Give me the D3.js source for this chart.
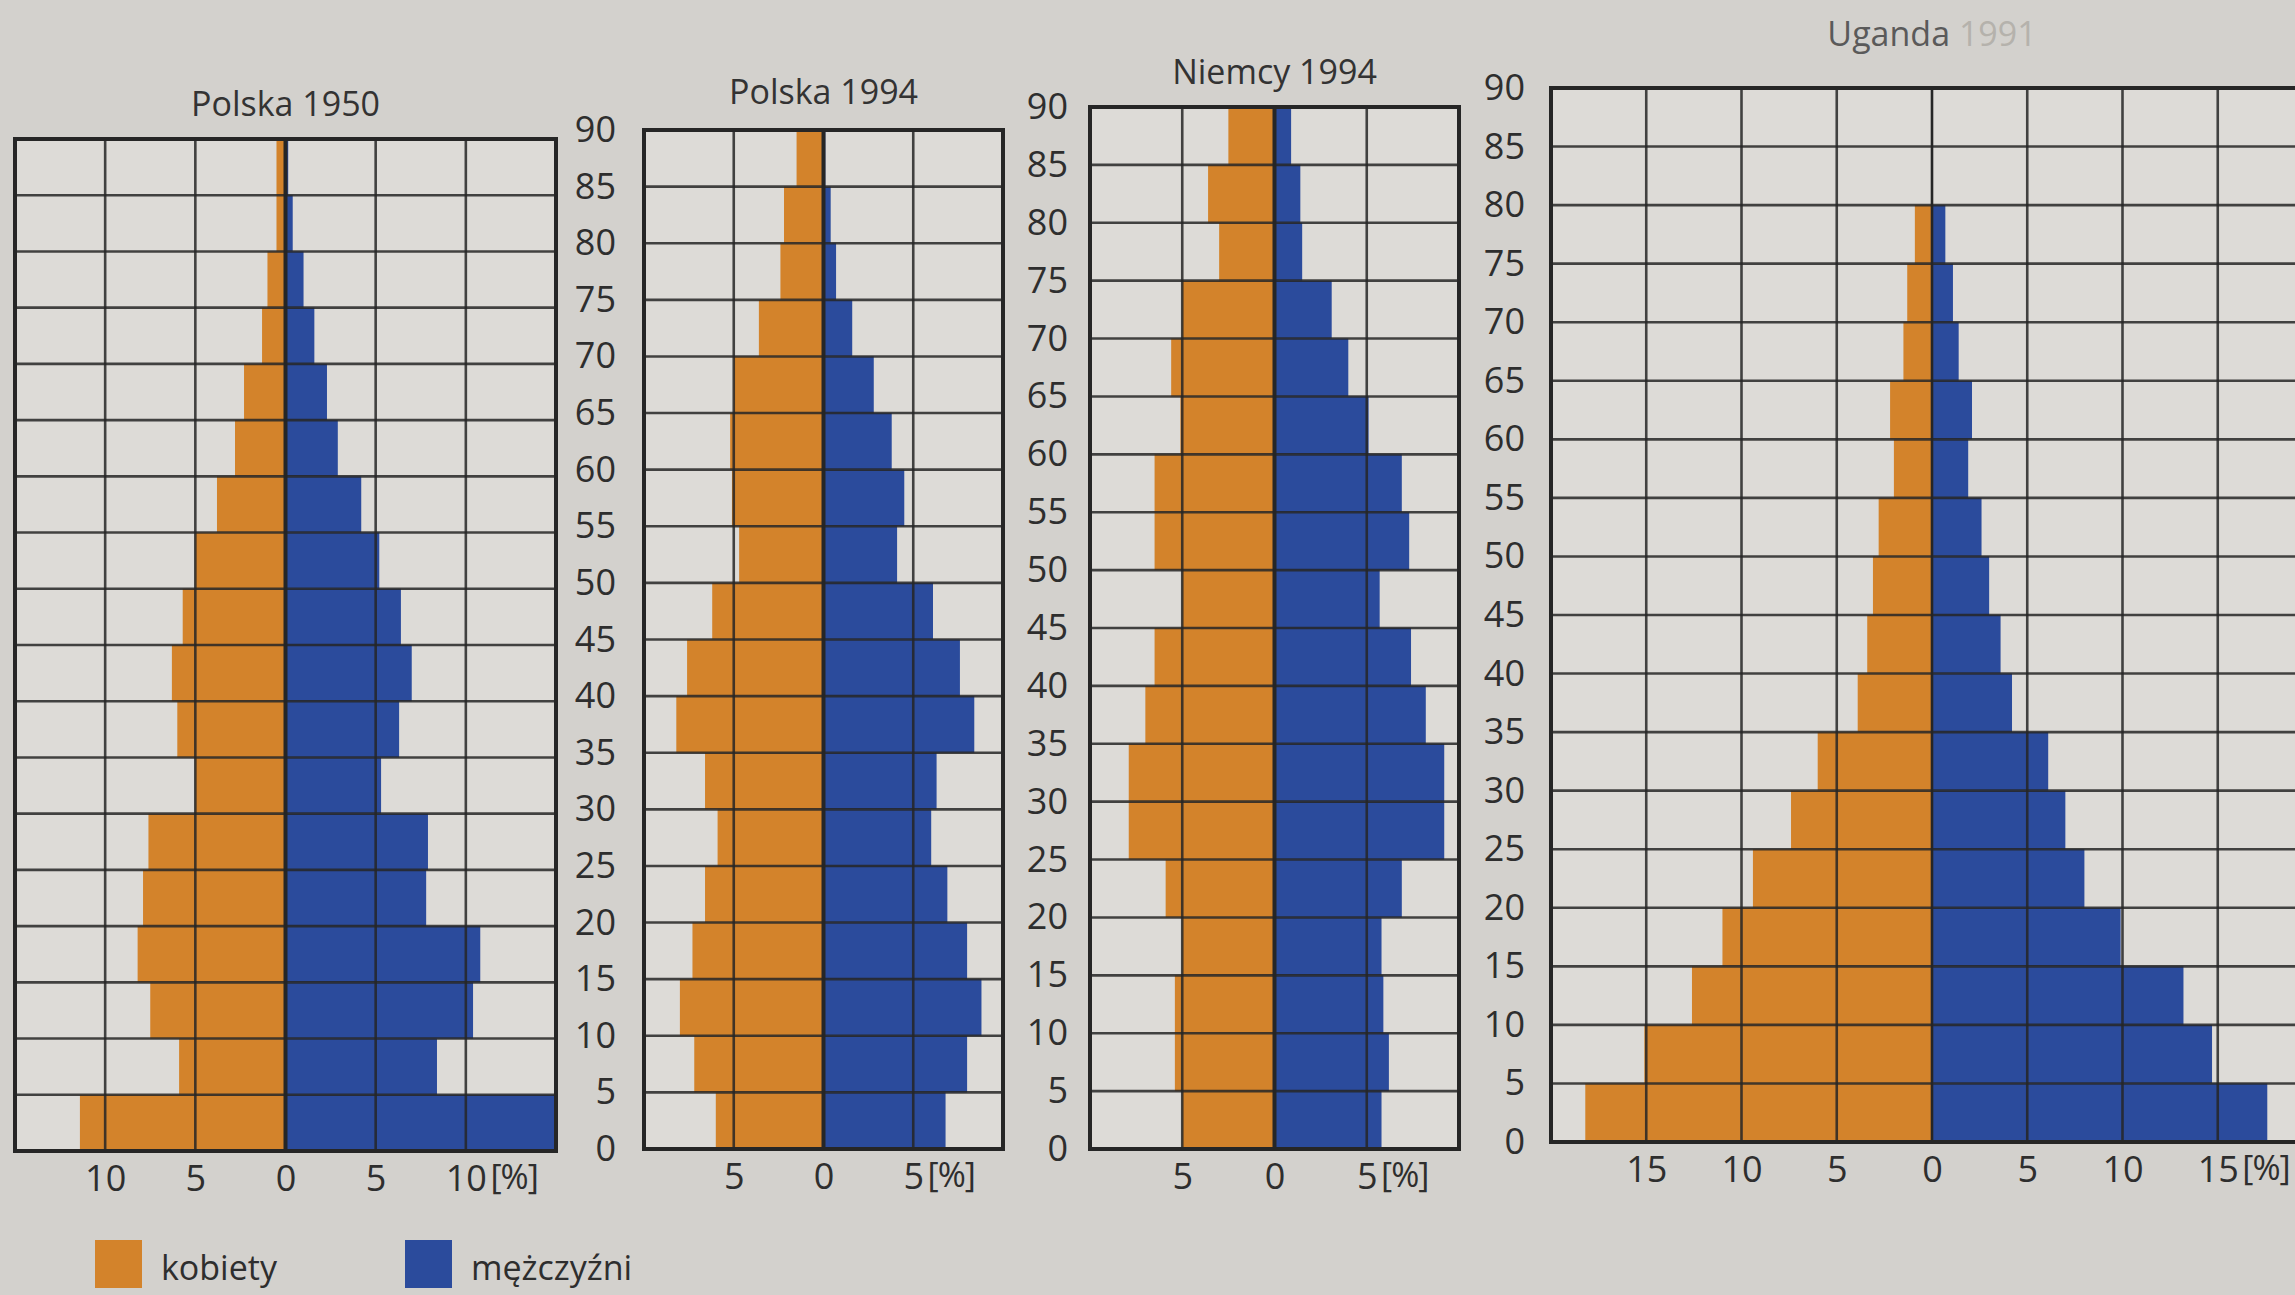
<!DOCTYPE html>
<html>
<head>
<meta charset="utf-8">
<script src="https://cdn.jsdelivr.net/npm/d3@7"></script>
<style>
  html, body { margin: 0; padding: 0; background: #d3d1cd; }
  svg { display: block; font-family: "Open Sans", "Noto Sans", sans-serif; }
</style>
</head>
<body>
<div id="chart"></div>
<script>
// ===== Dane (grupy wieku co 5 lat, od 0 w górę) =====
const ages = [0, 5, 10, 15, 20, 25, 30, 35, 40, 45, 50, 55, 60, 65, 70, 75, 80, 85];
const ageTicks = [0, 5, 10, 15, 20, 25, 30, 35, 40, 45, 50, 55, 60, 65, 70, 75, 80, 85, 90];

const polska1950Kobiety = [11.4, 5.9, 7.5, 8.2, 7.9, 7.6, 5.0, 6.0, 6.3, 5.7, 5.0, 3.8, 2.8, 2.3, 1.3, 1.0, 0.5, 0.5];
const polska1950Mezczyzni = [14.9, 8.4, 10.4, 10.8, 7.8, 7.9, 5.3, 6.3, 7.0, 6.4, 5.2, 4.2, 2.9, 2.3, 1.6, 1.0, 0.4, 0.15];

const polska1994Kobiety = [6.0, 7.2, 8.0, 7.3, 6.6, 5.9, 6.6, 8.2, 7.6, 6.2, 4.7, 5.1, 5.2, 5.0, 3.6, 2.4, 2.2, 1.5];
const polska1994Mezczyzni = [6.8, 8.0, 8.8, 8.0, 6.9, 6.0, 6.3, 8.4, 7.6, 6.1, 4.1, 4.5, 3.8, 2.8, 1.6, 0.7, 0.4, 0.1];

const niemcy1994Kobiety = [5.0, 5.4, 5.4, 5.0, 5.9, 7.9, 7.9, 7.0, 6.5, 5.0, 6.5, 6.5, 5.1, 5.6, 5.0, 3.0, 3.6, 2.5];
const niemcy1994Mezczyzni = [5.8, 6.2, 5.9, 5.8, 6.9, 9.2, 9.2, 8.2, 7.4, 5.7, 7.3, 6.9, 5.1, 4.0, 3.1, 1.5, 1.4, 0.9];

const uganda1991Kobiety = [18.2, 15.1, 12.6, 11.0, 9.4, 7.4, 6.0, 3.9, 3.4, 3.1, 2.8, 2.0, 2.2, 1.5, 1.3, 0.9, 0, 0];
const uganda1991Mezczyzni = [17.6, 14.7, 13.2, 9.9, 8.0, 7.0, 6.1, 4.2, 3.6, 3.0, 2.6, 1.9, 2.1, 1.4, 1.1, 0.7, 0, 0];

const legendLabels = ["kobiety", "mężczyźni"];

const ORANGE = "#d3832b";
const BLUE = "#2b4b9c";
const INK = "#262626";

const svg = d3
  .select("#chart")
  .append("svg")
  .attr("width", 2295)
  .attr("height", 1295);

svg.append("rect").attr("width", 2295).attr("height", 1295).attr("fill", "#d3d1cd");

// ===== Jedna piramida =====
function drawPyramid(cfg) {
  const g = svg.append("g");

  const x = d3.scaleLinear().domain([-cfg.max, cfg.max]).range([cfg.x0, cfg.x1]);
  const y = d3.scaleLinear().domain([0, 90]).range([cfg.yBot, cfg.yTop]);

  // tło wykresu
  g.append("rect")
    .attr("x", x(-cfg.max))
    .attr("y", y(90))
    .attr("width", x(cfg.max) - x(-cfg.max))
    .attr("height", y(0) - y(90))
    .attr("fill", "#dddbd7");

  const rows = ages.map((a, i) => ({ age: a, k: cfg.kobiety[i], m: cfg.mezczyzni[i] }));

  g.selectAll("rect.k")
    .data(rows.filter((d) => d.k > 0))
    .enter()
    .append("rect")
    .attr("class", "k")
    .attr("x", (d) => x(-d.k))
    .attr("y", (d) => y(d.age + 5))
    .attr("width", (d) => x(0) - x(-d.k))
    .attr("height", (d) => y(d.age) - y(d.age + 5))
    .attr("fill", ORANGE);

  g.selectAll("rect.m")
    .data(rows.filter((d) => d.m > 0))
    .enter()
    .append("rect")
    .attr("class", "m")
    .attr("x", x(0))
    .attr("y", (d) => y(d.age + 5))
    .attr("width", (d) => x(d.m) - x(0))
    .attr("height", (d) => y(d.age) - y(d.age + 5))
    .attr("fill", BLUE);

  // siatka pionowa
  const vLines = d3.range(-cfg.max + 5, cfg.max, 5);
  g.selectAll("line.v")
    .data(vLines)
    .enter()
    .append("line")
    .attr("x1", (d) => x(d))
    .attr("x2", (d) => x(d))
    .attr("y1", y(90))
    .attr("y2", y(0))
    .attr("stroke", INK)
    .attr("stroke-opacity", (d) => (d === 0 ? 1 : 0.85))
    .attr("stroke-width", (d) => (d === 0 ? cfg.zeroWidth : 2.6));

  // siatka pozioma
  g.selectAll("line.h")
    .data(d3.range(5, 90, 5))
    .enter()
    .append("line")
    .attr("x1", x(-cfg.max))
    .attr("x2", x(cfg.max))
    .attr("y1", (d) => y(d))
    .attr("y2", (d) => y(d))
    .attr("stroke", INK)
    .attr("stroke-opacity", 0.85)
    .attr("stroke-width", 2.6);

  // ramka
  g.append("rect")
    .attr("x", x(-cfg.max))
    .attr("y", y(90))
    .attr("width", x(cfg.max) - x(-cfg.max))
    .attr("height", y(0) - y(90))
    .attr("fill", "none")
    .attr("stroke", INK)
    .attr("stroke-width", 4);

  // oś wieku
  if (cfg.showAges) {
    const ay = g
      .append("g")
      .attr("transform", `translate(${x(-cfg.max)},0)`)
      .call(d3.axisLeft(y).tickValues(ageTicks).tickSize(0).tickPadding(cfg.agePad));
    ay.select(".domain").remove();
    ay.selectAll("text")
      .attr("fill", "#2e2e2e")
      .style("font-size", "36px")
      .style("font-family", "'Open Sans', sans-serif");
  }

  // oś procentów
  const ax = g
    .append("g")
    .attr("transform", `translate(0,${y(0)})`)
    .call(
      d3
        .axisBottom(x)
        .tickValues(cfg.xTicks)
        .tickFormat((d) => Math.abs(d))
        .tickSize(0)
        .tickPadding(14)
    );
  ax.select(".domain").remove();
  ax.selectAll("text")
    .attr("fill", "#2e2e2e")
    .style("font-size", "36px")
    .style("font-family", "'Open Sans', sans-serif");

  // jednostka za ostatnią etykietą
  const lastVal = cfg.xTicks[cfg.xTicks.length - 1];
  const lastW = ax.selectAll(".tick text").nodes().pop().getComputedTextLength();
  g.append("text")
    .attr("x", x(lastVal) + lastW / 2 + 4)
    .attr("y", y(0) + 14)
    .attr("dy", "0.71em")
    .attr("fill", "#2e2e2e")
    .style("font-size", "34px")
    .style("letter-spacing", "-1px")
    .text("[%]");

  // tytuł
  const t = g
    .append("text")
    .attr("x", x(0))
    .attr("y", cfg.titleY)
    .attr("text-anchor", "middle")
    .attr("fill", cfg.titleColor || "#333")
    .style("font-size", "34px");
  if (cfg.titleParts) {
    t.append("tspan").text(cfg.titleParts[0]);
    t.append("tspan").attr("fill", "#b5b2ac").text(" " + cfg.titleParts[1]);
  } else {
    t.text(cfg.title);
  }
}

drawPyramid({
  title: "Polska 1950",
  kobiety: polska1950Kobiety,
  mezczyzni: polska1950Mezczyzni,
  max: 15,
  x0: 15,
  x1: 556,
  yTop: 139,
  yBot: 1151,
  xTicks: [-10, -5, 0, 5, 10],
  showAges: false,
  zeroWidth: 4,
  titleY: 116,
});

drawPyramid({
  title: "Polska 1994",
  kobiety: polska1994Kobiety,
  mezczyzni: polska1994Mezczyzni,
  max: 10,
  x0: 644,
  x1: 1003,
  yTop: 130,
  yBot: 1149,
  xTicks: [-5, 0, 5],
  showAges: true,
  agePad: 28,
  zeroWidth: 4,
  titleY: 104,
});

drawPyramid({
  title: "Niemcy 1994",
  kobiety: niemcy1994Kobiety,
  mezczyzni: niemcy1994Mezczyzni,
  max: 10,
  x0: 1090,
  x1: 1459,
  yTop: 107,
  yBot: 1149,
  xTicks: [-5, 0, 5],
  showAges: true,
  agePad: 22,
  zeroWidth: 4,
  titleY: 84,
});

drawPyramid({
  titleParts: ["Uganda", "1991"],
  titleColor: "#5a5a5a",
  kobiety: uganda1991Kobiety,
  mezczyzni: uganda1991Mezczyzni,
  max: 20,
  x0: 1551,
  x1: 2313,
  yTop: 88,
  yBot: 1142,
  xTicks: [-15, -10, -5, 0, 5, 10, 15],
  showAges: true,
  agePad: 26,
  zeroWidth: 2.6,
  titleY: 46,
});

// ===== Legenda =====
const legend = svg.append("g");
const legendColors = [ORANGE, BLUE];
const legendX = [95, 405];
legendLabels.forEach((lab, i) => {
  legend
    .append("rect")
    .attr("x", legendX[i])
    .attr("y", 1240)
    .attr("width", 47)
    .attr("height", 48)
    .attr("fill", legendColors[i]);
  legend
    .append("text")
    .attr("x", legendX[i] + 66)
    .attr("y", 1280)
    .attr("fill", "#2e2e2e")
    .style("font-size", "34px")
    .text(lab);
});
</script>
</body>
</html>
